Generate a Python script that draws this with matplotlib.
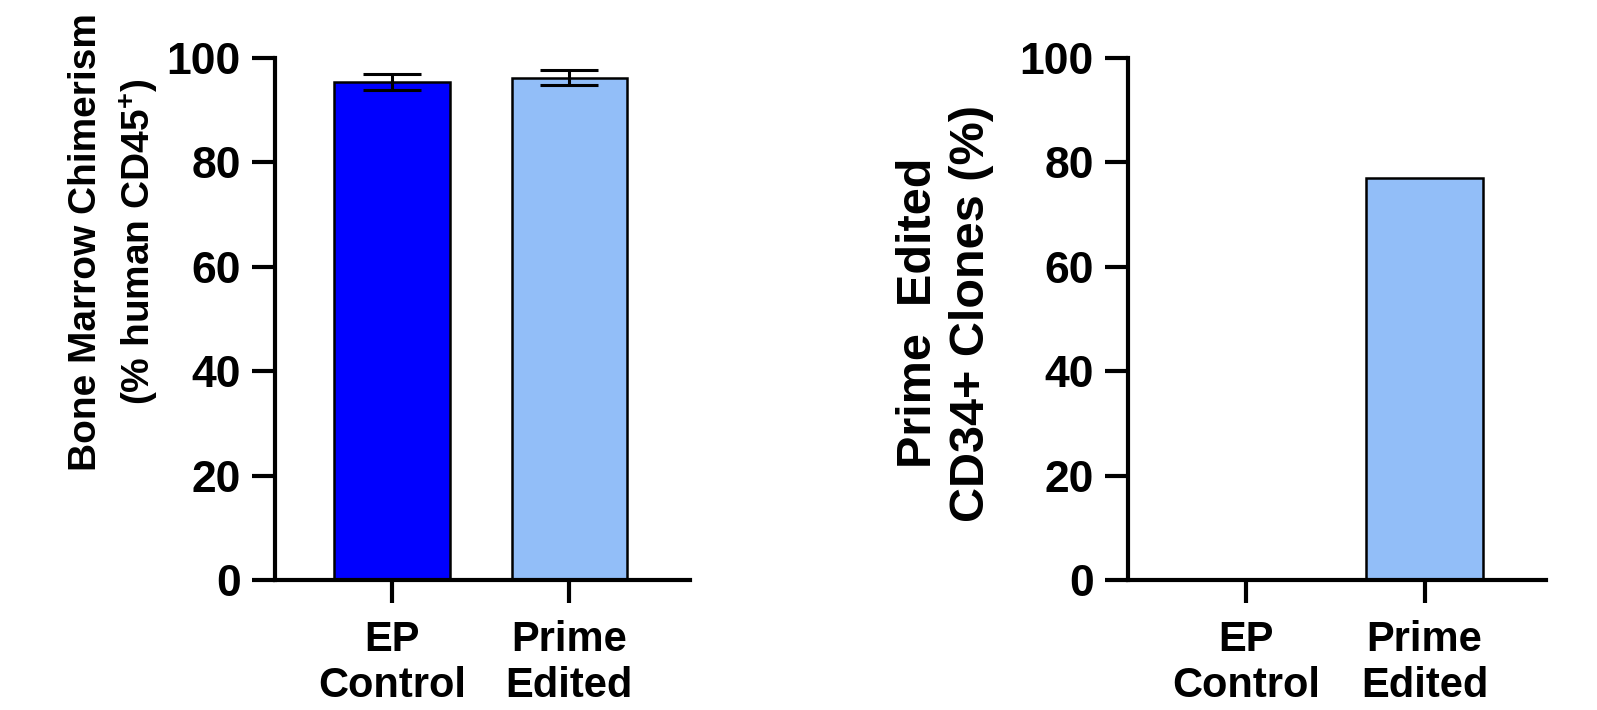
import matplotlib
matplotlib.use('Agg')
import matplotlib.pyplot as plt
from matplotlib import font_manager

# Data
categories = ['EP\nControl', 'Prime\nEdited']
chimerism_mean = [95.4, 96.2]
chimerism_err = [1.6, 1.45]
clones_pct = [0, 77]
bar_colors = ['#0000FF', '#92BEF8']
yticks = [0, 20, 40, 60, 80, 100]

plt.rcParams['font.family'] = ['Liberation Sans', 'DejaVu Sans']
plt.rcParams['font.weight'] = 'bold'
plt.rcParams['mathtext.fontset'] = 'custom'
plt.rcParams['mathtext.rm'] = 'Liberation Sans:bold'
plt.rcParams['mathtext.it'] = 'Liberation Sans:bold'
plt.rcParams['mathtext.bf'] = 'Liberation Sans:bold'


def narrow_font_available() -> bool:
    names = {f.name for f in font_manager.fontManager.ttflist}
    return 'Liberation Sans Narrow' in names


def style_axis(ax) -> None:
    # GraphPad-like axes: only left and bottom, thick lines, outward ticks
    for side in ['top', 'right']:
        ax.spines[side].set_visible(False)
    for side in ['left', 'bottom']:
        ax.spines[side].set_linewidth(3)
    ax.set_ylim(0, 100)
    ax.set_xlim(-0.66, 1.68)
    ax.set_yticks(yticks)
    ax.set_xticks(range(len(categories)))
    ax.set_xticklabels(categories, fontsize=30, fontweight='bold', linespacing=1.22)
    ax.tick_params(axis='y', direction='out', length=16.5, width=3, pad=8, labelsize=32)
    ax.tick_params(axis='x', direction='out', length=16.5, width=3, pad=12)
    for label in ax.get_yticklabels():
        label.set_fontweight('bold')


def main() -> None:
    fig = plt.figure(figsize=(15.97, 7.1), dpi=100)

    # Left panel: bone marrow chimerism
    ax1 = fig.add_axes([275 / 1597, 130 / 710, 415 / 1597, 522 / 710])
    x = range(len(categories))
    ax1.bar(x, chimerism_mean, width=0.65, color=bar_colors,
            edgecolor='black', linewidth=1.8, zorder=2)
    ax1.errorbar(x, chimerism_mean, yerr=chimerism_err, fmt='none',
                 ecolor='black', elinewidth=2.2, capsize=21, capthick=2.2, zorder=3)
    style_axis(ax1)

    if narrow_font_available():
        left_family, left_size = ['Liberation Sans Narrow', 'Liberation Sans'], 33
    else:
        left_family, left_size = ['Liberation Sans', 'DejaVu Sans'], 28
    fig.text(114 / 1597, 1 - 242 / 710,
             'Bone Marrow Chimerism\n(% human CD45$^{+}$)',
             rotation=90, ha='center', va='center', multialignment='center',
             fontsize=left_size, fontweight='bold', family=left_family,
             linespacing=1.4)

    # Right panel: prime edited clones
    ax2 = fig.add_axes([1128 / 1597, 130 / 710, 418 / 1597, 522 / 710])
    ax2.bar(x, clones_pct, width=0.65, color=bar_colors[1],
            edgecolor='black', linewidth=1.8, zorder=2)
    style_axis(ax2)

    fig.text(945 / 1597, 1 - 313 / 710,
             'Prime  Edited\nCD34+ Clones (%)',
             rotation=90, ha='center', va='center', multialignment='center',
             fontsize=35, fontweight='bold', linespacing=1.22)

    fig.savefig('out.png', dpi=100)


if __name__ == '__main__':
    main()
